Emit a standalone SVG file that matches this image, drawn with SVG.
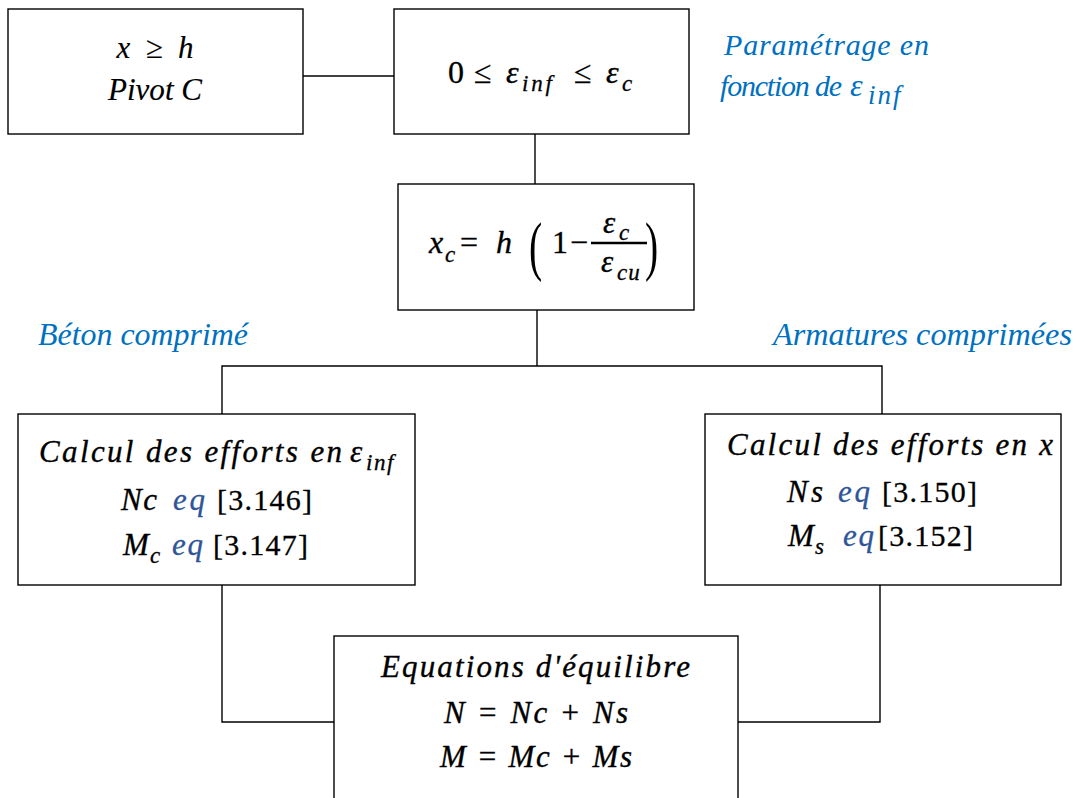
<svg xmlns="http://www.w3.org/2000/svg" width="1078" height="798" viewBox="0 0 1078 798">
<style>
.box{fill:#fff;stroke:#000;stroke-width:1.4}
.ln{fill:none;stroke:#000;stroke-width:1.4}
text{font-family:"Liberation Serif","DejaVu Serif","Times New Roman",serif}
.m{font-style:italic;font-size:31px;fill:#000;stroke:#000;stroke-width:0.35}
.u{font-style:normal;font-size:30px;fill:#000;stroke:#000;stroke-width:0.3}
.sub{font-style:italic;font-size:23px;fill:#000;stroke:#000;stroke-width:0.3}
.lab{font-style:italic;font-size:30px;fill:#0070C0}
.eq{font-style:italic;font-size:31px;fill:#2F5597;stroke:#2F5597;stroke-width:0.3}
.big{font-size:32px}
.paren{font-style:normal;font-size:66px;fill:#000}
</style>
<rect width="1078" height="798" fill="#fff"/>
<g id="connectors">
<line class="ln" x1="303" y1="76" x2="394" y2="76"/>
<line class="ln" x1="535" y1="134" x2="535" y2="184"/>
<polyline class="ln" points="537,310 537,366"/>
<polyline class="ln" points="222,414 222,366 882,366 882,414"/>
<polyline class="ln" points="222,585 222,722 334,722"/>
<polyline class="ln" points="880,584 880,722 738,722"/>
</g>
<g id="node-pivot">
<rect class="box" x="8" y="9" width="295" height="125"/>
<text class="m" x="155" y="58" text-anchor="middle" style="font-size:31px;stroke-width:0.15" textLength="77" lengthAdjust="spacing">x ≥ h</text>
<text class="m" x="155" y="100" text-anchor="middle" style="font-size:31px;stroke-width:0.15" textLength="94" lengthAdjust="spacingAndGlyphs">Pivot C</text>
</g>
<g id="node-eps">
<rect class="box" x="394" y="9" width="295" height="125"/>
<text class="u big" x="448" y="83">0</text>
<text class="u big" x="474" y="83">≤</text>
<text class="m big" x="506" y="83">ε</text>
<text class="sub" x="522" y="91" textLength="30" lengthAdjust="spacing">inf</text>
<text class="u big" x="574" y="83">≤</text>
<text class="m big" x="606" y="83">ε</text>
<text class="sub" x="622" y="91">c</text>
</g>
<g id="label-param">
<text class="lab" x="724" y="55" textLength="205" lengthAdjust="spacing">Paramétrage en</text>
<text class="lab" x="720" y="96" textLength="122" lengthAdjust="spacing">fonction de</text>
<text class="lab" x="850" y="96" style="font-size:32px">ε</text>
<text class="lab" x="868" y="104" style="font-size:27px;letter-spacing:2px">inf</text>
</g>
<g id="node-xc">
<rect class="box" x="398" y="184" width="296" height="126"/>
<text class="m big" x="429" y="253">x</text>
<text class="sub" x="445" y="262">c</text>
<text class="u big" x="460" y="253">=</text>
<text class="m big" x="496" y="253">h</text>
<text class="paren" x="0" y="0" transform="translate(529 268) scale(0.6 1)">(</text>
<text class="u big" x="552" y="253">1</text>
<text class="u big" x="570" y="253">−</text>
<line x1="591" y1="243" x2="647" y2="243" stroke="#000" stroke-width="2.4"/>
<text class="m" x="603" y="233">ε</text>
<text class="sub" x="619" y="240">c</text>
<text class="m" x="601" y="272">ε</text>
<text class="sub" x="617" y="280" style="letter-spacing:1px">cu</text>
<text class="paren" x="0" y="0" transform="translate(645 268) scale(0.6 1)">)</text>
</g>
<g id="label-beton">
<text class="lab" x="38" y="345" style="font-size:32px" textLength="210" lengthAdjust="spacingAndGlyphs">Béton comprimé</text>
</g>
<g id="label-armatures">
<text class="lab" x="773" y="345" style="font-size:32px" textLength="299" lengthAdjust="spacingAndGlyphs">Armatures comprimées</text>
</g>
<g id="node-beton">
<rect class="box" x="18" y="414" width="397" height="171"/>
<text class="m" x="39" y="462" textLength="303" lengthAdjust="spacing">Calcul des efforts en</text>
<text class="m" x="350" y="462">ε</text>
<text class="sub" x="366" y="470" style="letter-spacing:1.5px">inf</text>
<text class="m" x="121" y="510" textLength="36" lengthAdjust="spacing">Nc</text>
<text class="eq" x="173" y="510" textLength="32" lengthAdjust="spacing">eq</text>
<text class="u" x="217" y="510" textLength="95" lengthAdjust="spacing">[3.146]</text>
<text class="m" x="123" y="555">M</text>
<text class="sub" x="150" y="563">c</text>
<text class="eq" x="172" y="555" textLength="31" lengthAdjust="spacing">eq</text>
<text class="u" x="213" y="555" textLength="95" lengthAdjust="spacing">[3.147]</text>
</g>
<g id="node-armatures">
<rect class="box" x="705" y="414" width="356" height="171"/>
<text class="m" x="727" y="455" textLength="326" lengthAdjust="spacing">Calcul des efforts en x</text>
<text class="m" x="787" y="502" textLength="36" lengthAdjust="spacing">Ns</text>
<text class="eq" x="838" y="502" textLength="32" lengthAdjust="spacing">eq</text>
<text class="u" x="882" y="502" textLength="95" lengthAdjust="spacing">[3.150]</text>
<text class="m" x="788" y="546">M</text>
<text class="sub" x="815" y="554">s</text>
<text class="eq" x="843" y="546" textLength="31" lengthAdjust="spacing">eq</text>
<text class="u" x="878" y="546" textLength="95" lengthAdjust="spacing">[3.152]</text>
</g>
<g id="node-equilibre">
<rect class="box" x="334" y="636" width="404" height="175"/>
<text class="m" x="381" y="677" textLength="309" lengthAdjust="spacing">Equations d'équilibre</text>
<text class="m" x="444" y="723" textLength="184" lengthAdjust="spacing">N = Nc + Ns</text>
<text class="m" x="440" y="767" textLength="192" lengthAdjust="spacing">M = Mc + Ms</text>
</g>
</svg>
